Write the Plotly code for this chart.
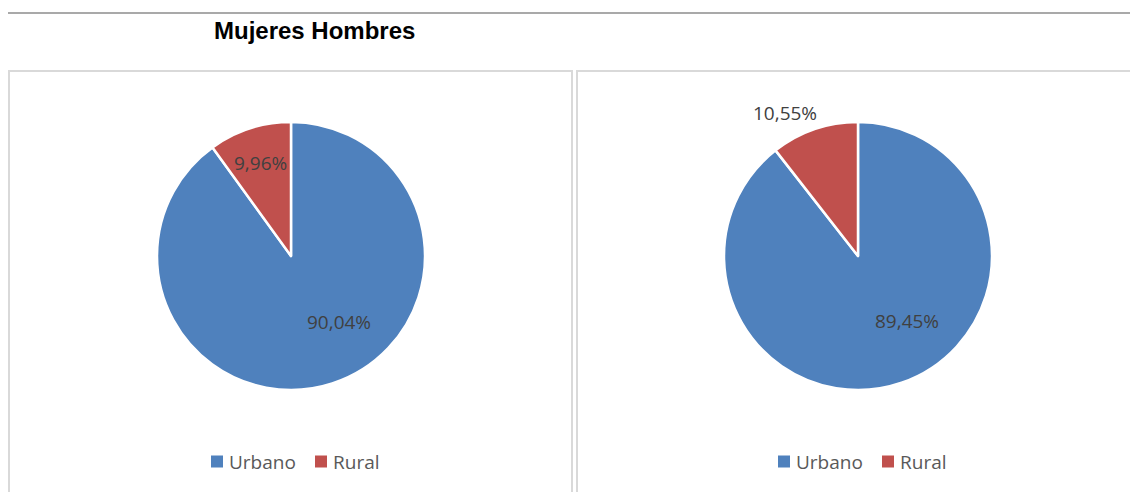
import plotly.graph_objects as go

W, H = 1130, 492

categorias = ["Urbano", "Rural"]
mujeres = [90.04, 9.96]
hombres = [89.45, 10.55]
colores = ["#4F81BD", "#C0504D"]
titulo = "Mujeres Hombres"


def fx(px):
    return px / W


def fy(py):
    return 1 - py / H


def fmt(v):
    return f"{v:.2f}".replace(".", ",") + "%"


# pie centres and radius in pixels
centros = [(291, 256), (858, 256)]
radio = 134

fig = go.Figure()
series = [mujeres, hombres]
for (cx, cy), vals in zip(centros, series):
    fig.add_trace(go.Pie(
        labels=categorias,
        values=vals,
        sort=False,
        direction="clockwise",
        rotation=0,
        textinfo="none",
        hoverinfo="label+percent",
        marker=dict(colors=colores, line=dict(color="white", width=2.5)),
        domain=dict(x=[fx(cx - radio), fx(cx + radio)],
                    y=[fy(cy + radio), fy(cy - radio)]),
        showlegend=False,
    ))

# data label offsets from each pie centre (pixels), per slice
offsets = [
    [(48, 66), (-31, -93)],
    [(49, 65), (-73, -143)],
]
anotaciones = []
formas = []
for (cx, cy), vals, offs in zip(centros, series, offsets):
    for v, (dx, dy) in zip(vals, offs):
        anotaciones.append(dict(
            x=fx(cx + dx), y=fy(cy + dy), xref="paper", yref="paper",
            text=fmt(v), showarrow=False, xanchor="center", yanchor="middle",
            font=dict(family="Open Sans", size=19, color="#404040"),
        ))

# legend below each pie: colour square + category name
leg_y = 461.5
leg_sq = [-80, 24]   # square left edge relative to pie centre
for cx, _ in centros:
    for cat, col, sx in zip(categorias, colores, leg_sq):
        formas.append(dict(
            type="rect", xref="paper", yref="paper",
            x0=fx(cx + sx), x1=fx(cx + sx + 12),
            y0=fy(leg_y + 6), y1=fy(leg_y - 6),
            fillcolor=col, line=dict(width=0),
        ))
        anotaciones.append(dict(
            x=fx(cx + sx + 16), y=fy(leg_y), xref="paper", yref="paper",
            text=cat, showarrow=False, xanchor="left", yanchor="middle",
            font=dict(family="Open Sans", size=19, color="#595959"),
        ))

anotaciones.append(dict(
    x=fx(314), y=fy(30), xref="paper", yref="paper", text=f"<b>{titulo}</b>",
    showarrow=False, xanchor="center", yanchor="middle",
    font=dict(family="Liberation Sans", size=24, color="#000000"),
))

formas += [
    dict(type="line", xref="paper", yref="paper", x0=fx(8), x1=1,
         y0=fy(13), y1=fy(13), line=dict(color="#8c8c8c", width=1.5)),
    dict(type="rect", xref="paper", yref="paper", x0=fx(9), x1=fx(572),
         y0=fy(71), y1=fy(520), line=dict(color="#d9d9d9", width=2)),
    dict(type="rect", xref="paper", yref="paper", x0=fx(577), x1=fx(1140),
         y0=fy(71), y1=fy(520), line=dict(color="#d9d9d9", width=2)),
]

fig.update_layout(
    width=W, height=H,
    margin=dict(l=0, r=0, t=0, b=0),
    paper_bgcolor="white",
    plot_bgcolor="white",
    shapes=formas,
    annotations=anotaciones,
    showlegend=False,
)

fig.write_html("out.html")
